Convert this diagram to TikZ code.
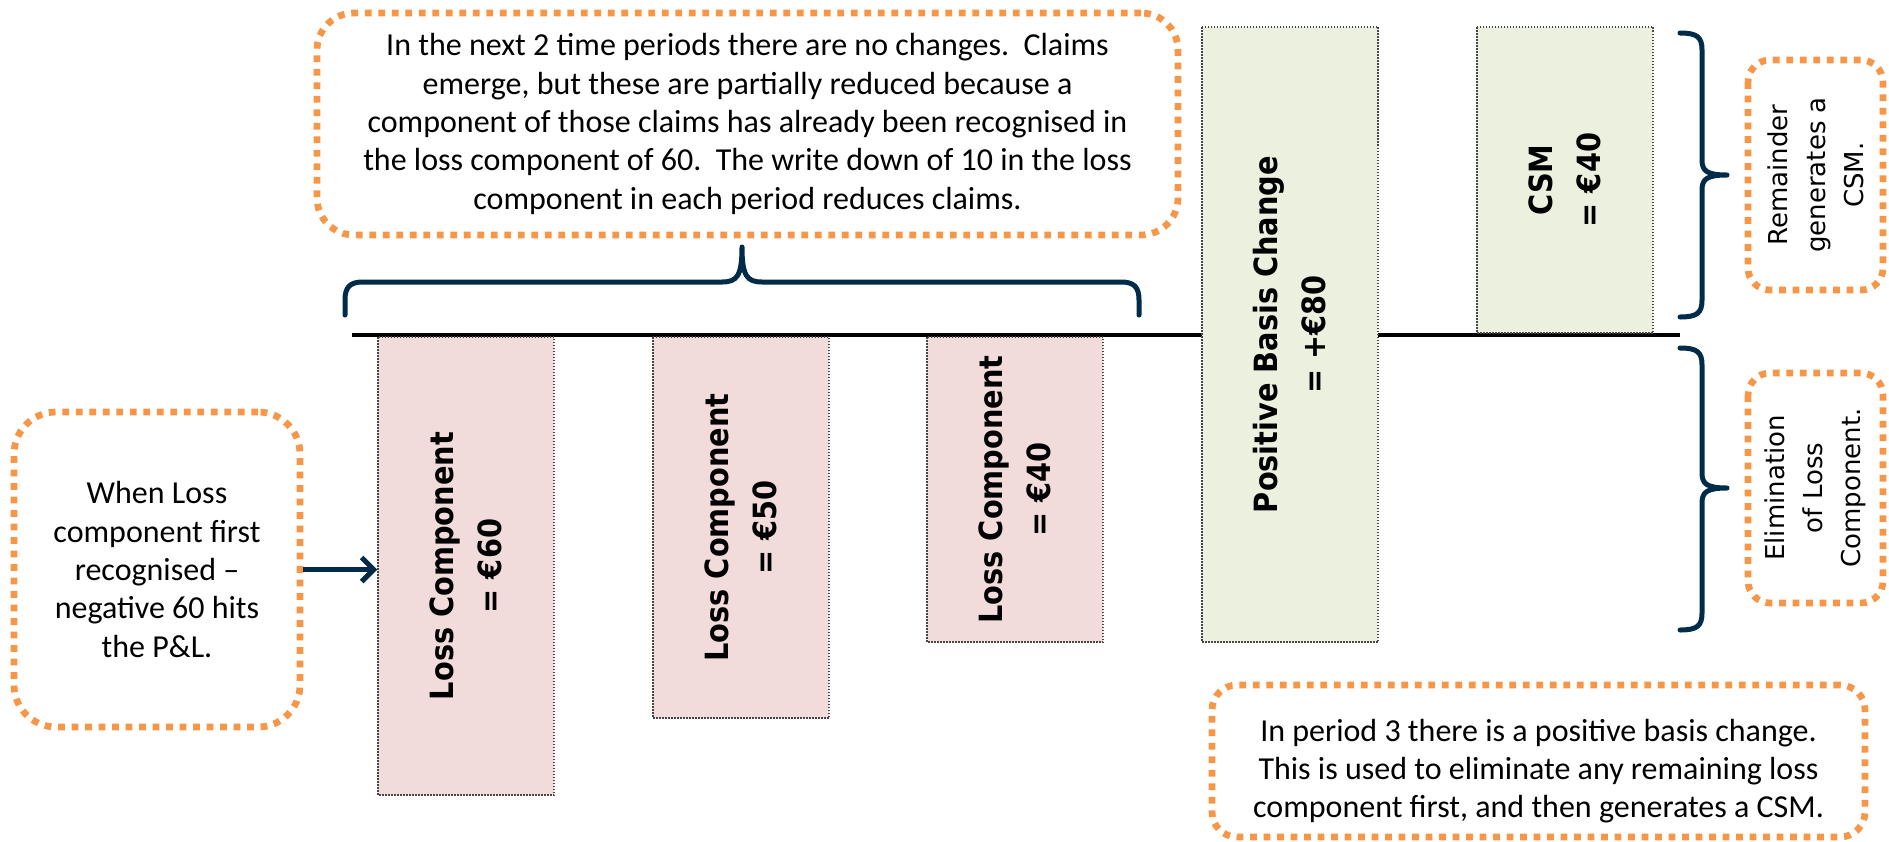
\documentclass[tikz,border=0pt]{standalone}
\usepackage{fontspec}
\setmainfont{Carlito}
\newfontfamily\vfont{DejaVu Sans}
\newfontfamily\bcfont{DejaVu Sans Condensed}
\usetikzlibrary{arrows.meta}
\definecolor{orng}{RGB}{247,150,70}
\definecolor{navy}{RGB}{0,43,73}
\definecolor{pinkf}{RGB}{242,220,219}
\definecolor{greenf}{RGB}{235,241,222}
\definecolor{dotc}{RGB}{70,70,70}
\begin{document}
\begin{tikzpicture}[x=1pt,y=-1pt,
  callout/.style={draw=orng, line width=6.75pt, dash pattern=on 6.75pt off 6.75pt,
    align=center, inner sep=0pt, font=\fontsize{32}{38.3}\selectfont},
  calltext/.style={align=center, inner sep=0pt, font=\fontsize{32}{38.3}\selectfont},
  vcallout/.style={callout, rotate=90, font=\vfont\fontsize{26}{38}\selectfont},
  bar/.style={draw=dotc, line width=1.5pt, dash pattern=on 1.5pt off 1.5pt, rotate=90,
    align=center, inner sep=0pt, font=\bcfont\bfseries\fontsize{32}{48}\selectfont},
  brace/.style={draw=navy, line width=5pt, line cap=round, line join=round},
  axis/.style={draw=black, line width=4pt}
]
\useasboundingbox (0,0) rectangle (1889,841);

% axis
\coordinate (axL) at (352,335);
\coordinate (axR) at (1680,335);
\draw[axis] (axL) -- (axR);

% bars
\node[bar, fill=pinkf, minimum width=458pt, minimum height=176pt] (l1) at (466,566) {Loss Component\\= €60};
\node[bar, fill=pinkf, minimum width=381pt, minimum height=176pt] (l2) at (741,527.5) {Loss Component\\= €50};
\node[bar, fill=pinkf, minimum width=305pt, minimum height=176pt] (l3) at (1015,489.5) {Loss Component\\= €40};
\node[bar, fill=greenf, minimum width=615pt, minimum height=176pt] (pb) at (1290,334.5) {Positive Basis Change\\= +€80};
\node[bar, fill=greenf, minimum width=306pt, minimum height=176pt] (csm) at (1565,180) {CSM\\= €40};

% callouts
\node[callout, rounded corners=37pt, minimum width=861pt, minimum height=222pt] (tc) at (747.5,124)
  {In the next 2 time periods there are no changes.\ \ Claims\\
   emerge, but these are partially reduced because a\\
   component of those claims has already been recognised in\\
   the loss component of 60.\ \ The write down of 10 in the loss\\
   component in each period reduces claims.};
\node[callout, rounded corners=42pt, minimum width=286pt, minimum height=315pt] (lc) at (157,569.5)
  {When Loss\\ component first\\ recognised --\\ negative 60 hits\\ the P\&L.};
\node[vcallout, rounded corners=22pt, minimum width=230pt, minimum height=135pt] (rc1) at (1815.5,175)
  {Remainder\\ generates a\\ CSM.};
\node[vcallout, rounded corners=22pt, minimum width=230pt, minimum height=135pt] (rc2) at (1815.5,488)
  {Elimination\\ of Loss\\ Component.};
\node[callout, rounded corners=25pt, minimum width=653pt, minimum height=152pt] (bc) at (1538.5,761) {};
\node[calltext] (bct) at (1538.5,771)
  {In period 3 there is a positive basis change.\\
   This is used to eliminate any remaining loss\\
   component first, and then generates a CSM.};

% arrow
\draw[navy, line width=5pt, -{Straight Barb[length=12pt, width=24pt]}] (lc.east) -- (lc.east -| l1.north);

% braces
\draw[brace] (345,315) -- (345,300) .. controls (345,287) and (350,282) .. (363,282)
  -- (722,282) .. controls (737,282) and (742,276) .. (742,247)
  .. controls (742,276) and (747,282) .. (762,282)
  -- (1121,282) .. controls (1134,282) and (1139,287) .. (1139,300) -- (1139,315);
\draw[brace] (1680,33) .. controls (1697,33) and (1702,37) .. (1702,50) -- (1702,160)
  .. controls (1702,171) and (1707,175) .. (1727,175)
  .. controls (1707,175) and (1702,179) .. (1702,190) -- (1702,300)
  .. controls (1702,313) and (1697,317) .. (1680,317);
\draw[brace] (1680,348) .. controls (1697,348) and (1702,352) .. (1702,365) -- (1702,473)
  .. controls (1702,484) and (1707,488) .. (1727,488)
  .. controls (1707,488) and (1702,492) .. (1702,503) -- (1702,613)
  .. controls (1702,626) and (1697,630) .. (1680,630);
\end{tikzpicture}
\end{document}
